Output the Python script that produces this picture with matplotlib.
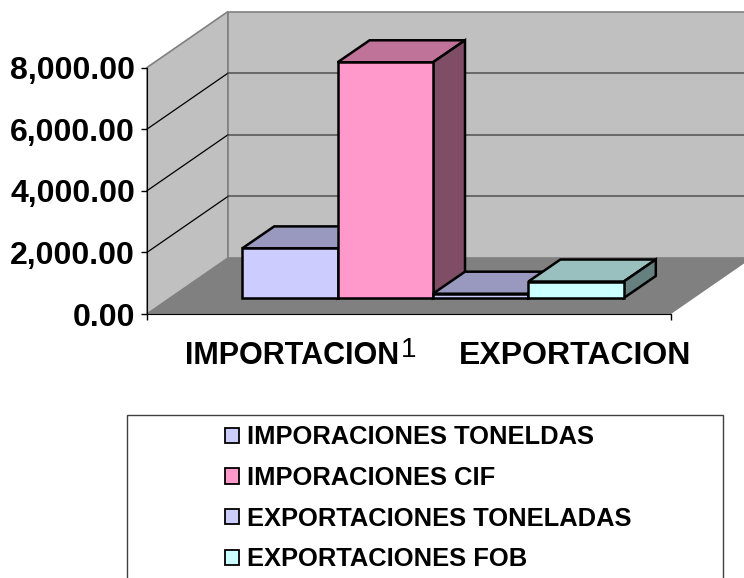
import matplotlib
matplotlib.use('Agg')
import matplotlib.pyplot as plt
from matplotlib.patches import Polygon, Patch, Rectangle
from matplotlib.transforms import Affine2D, IdentityTransform

plt.rcParams['font.family'] = ['Liberation Sans', 'DejaVu Sans']
plt.rcParams['font.weight'] = 'bold'

series = ['IMPORACIONES TONELDAS', 'IMPORACIONES CIF',
          'EXPORTACIONES TONELADAS', 'EXPORTACIONES FOB']
values = [1610, 7650, 140, 535]
colors = ['#CCCCFF', '#FF99CC', '#CCCCFF', '#CCFFFF']
y_ticks = [0, 2000, 4000, 6000, 8000]
y_labels = ['0.00', '2,000.00', '4,000.00', '6,000.00', '8,000.00']
category = '1'
groups = ['IMPORTACION', 'EXPORTACION']

W, H = 744, 578
WALL_DX, WALL_DY = 81, 56    # depth of the 3d box, px
BAR_DX, BAR_DY = 32, 22      # depth of one bar, px
BASE_DX, BASE_DY = 24, 16    # how far the bars stand back from the front edge

fig = plt.figure(figsize=(W / 100, H / 100), dpi=100)
ax = fig.add_axes([147 / W, (H - 314) / H, 524 / W, 246.5 / H])
ax.set_xlim(0, 1)
ax.set_ylim(0, 8000)
ax.patch.set_visible(False)
for s in ['top', 'right']:
    ax.spines[s].set_visible(False)
ax.set_xticks([0, 1])
ax.set_xticklabels([])
ax.set_yticks(y_ticks)
ax.set_yticklabels(y_labels, fontsize=23)
ax.tick_params(axis='both', length=4.5, width=1, pad=4)


def px(x, y):
    return ax.transData.transform((x, y))


def poly(points, **kw):
    ax.add_patch(Polygon(points, closed=True, transform=IdentityTransform(),
                         clip_on=False, **kw))


def shade(col, f):
    rgb = matplotlib.colors.to_rgb(col)
    return tuple(c * f for c in rgb)


# walls and floor
x0, y0 = px(0, 0)
x1, _ = px(1, 0)
_, ytop = px(0, 8000)
poly([(x0, y0), (x0, ytop), (x0 + WALL_DX, ytop + WALL_DY), (x0 + WALL_DX, y0 + WALL_DY)],
     facecolor='#C0C0C0', edgecolor='#808080', lw=1.2, zorder=0)
poly([(x0 + WALL_DX, y0 + WALL_DY), (x0 + WALL_DX, ytop + WALL_DY),
      (x1 + WALL_DX, ytop + WALL_DY), (x1 + WALL_DX, y0 + WALL_DY)],
     facecolor='#C0C0C0', edgecolor='#808080', lw=1.2, zorder=0)
poly([(x0, y0), (x1, y0), (x1 + WALL_DX, y0 + WALL_DY), (x0 + WALL_DX, y0 + WALL_DY)],
     facecolor='#808080', edgecolor='none', zorder=0.5)

# gridlines on both walls
for t in y_ticks[1:-1]:
    _, yt = px(0, t)
    ax.plot([x0, x0 + WALL_DX], [yt, yt + WALL_DY], color='black', lw=0.9,
            transform=IdentityTransform(), clip_on=False, zorder=1)
    ax.plot([x0 + WALL_DX, x1 + WALL_DX], [yt + WALL_DY, yt + WALL_DY], color='#505050', lw=1.1,
            transform=IdentityTransform(), clip_on=False, zorder=1)

# bars, left to right so each one covers the previous
bar_w = 95.4 / 524
first = 0.5 - bar_w * len(values) / 2
shift = ax.transData + Affine2D().translate(BASE_DX, BASE_DY)
for i, (v, c) in enumerate(zip(values, colors)):
    x = first + i * bar_w
    z = 2 + i
    ax.bar(x, v, bar_w, align='edge', color=c, edgecolor='black', linewidth=1.8,
           transform=shift, clip_on=False, zorder=z + 0.5)
    xa, yb = shift.transform((x, 0))
    xb, yt = shift.transform((x + bar_w, v))
    poly([(xa, yt), (xb, yt), (xb + BAR_DX, yt + BAR_DY), (xa + BAR_DX, yt + BAR_DY)],
         facecolor=shade(c, 0.75), edgecolor='black', lw=1.8, zorder=z)
    poly([(xb, yb), (xb, yt), (xb + BAR_DX, yt + BAR_DY), (xb + BAR_DX, yb + BAR_DY)],
         facecolor=shade(c, 0.5), edgecolor='black', lw=1.8, zorder=z)

# category label and the two text boxes laid over it
fig.text(409 / W, 1 - 350 / H, category, ha='center', va='center', fontsize=20, fontweight='normal')
fig.text(292.5 / W, 1 - 356 / H, groups[0], ha='center', va='center', fontsize=22)
fig.text(575.5 / W, 1 - 356 / H, groups[1], ha='center', va='center', fontsize=23)

# legend
fig.add_artist(Rectangle((127 / W, -0.01), 596 / W, 1 - 415 / H + 0.01, transform=fig.transFigure,
                         facecolor='white', edgecolor='#404040', lw=1))
handles = [Patch(facecolor=c, edgecolor='black', linewidth=1.3) for c in colors]
fig.legend(handles, series, loc='upper left', bbox_to_anchor=(205 / W, 1 - 405 / H),
           frameon=False, fontsize=18.4, handlelength=0.55, handleheight=0.55,
           handletextpad=0.31, labelspacing=0.65, borderpad=0.3)

fig.savefig('out.png', dpi=100)
